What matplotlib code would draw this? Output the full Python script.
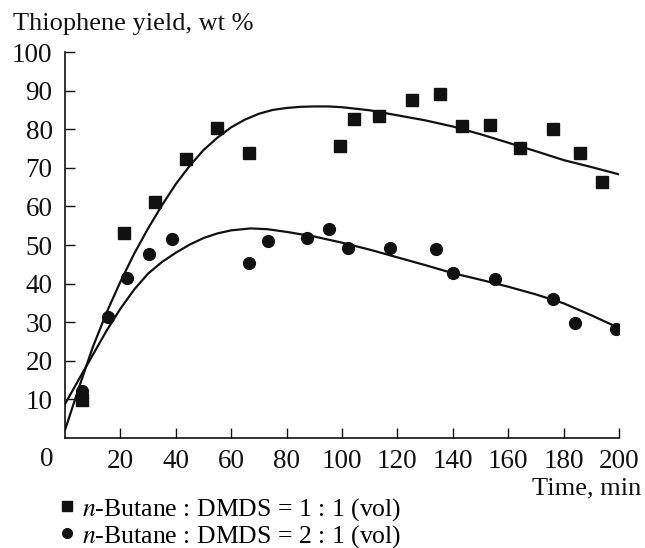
import matplotlib
matplotlib.use('Agg')
import matplotlib.pyplot as plt

plt.rcParams['font.family'] = ['Liberation Serif', 'DejaVu Serif']
plt.rcParams['mathtext.fontset'] = 'stix'

# n-Butane : DMDS = 1 : 1 (squares)
sq_x = [6.0, 21.4, 32.5, 43.6, 54.8, 66.5, 99.3, 104.3, 113.4, 125.4, 135.3,
        143.4, 153.3, 164.3, 176.3, 186.0, 194.0]
sq_y = [9.8, 53.0, 61.2, 72.3, 80.4, 73.8, 75.6, 82.6, 83.4, 87.6, 89.2,
        80.9, 81.0, 75.2, 80.1, 73.9, 66.4]

# n-Butane : DMDS = 2 : 1 (circles)
ci_x = [6.0, 15.4, 22.3, 30.4, 38.6, 66.5, 73.4, 87.3, 95.2, 102.1, 117.3,
        134.0, 140.1, 155.3, 176.1, 184.0, 199.0]
ci_y = [12.2, 31.3, 41.5, 47.6, 51.6, 45.4, 51.0, 51.9, 54.1, 49.1, 49.1,
        49.0, 42.8, 41.3, 36.1, 29.9, 28.3]

# fitted curves
fit1_x = [0, 5, 10, 15, 20, 25, 30, 35, 40, 45, 50, 55, 60, 65, 70, 75, 80,
          85, 90, 95, 100, 110, 120, 130, 140, 150, 160, 170, 180, 190, 200]
fit1_y = [2.1, 13.0, 23.5, 32.5, 40.5, 47.8, 54.3, 60.3, 65.8, 70.5, 74.6,
          77.8, 80.5, 82.5, 84.0, 85.0, 85.5, 85.8, 85.9, 85.9, 85.7, 84.9,
          83.6, 82.3, 80.7, 78.7, 76.5, 74.3, 72.0, 70.2, 68.3]
fit2_x = [0, 5, 10, 15, 20, 25, 30, 35, 40, 45, 50, 55, 60, 67, 73, 80, 90,
          100, 110, 120, 130, 140, 150, 160, 170, 180, 190, 200]
fit2_y = [8.8, 15.2, 21.5, 27.8, 33.5, 38.5, 42.6, 45.6, 48.0, 50.1, 51.8,
          53.0, 53.8, 54.3, 54.1, 53.4, 52.2, 50.6, 48.8, 46.8, 44.8, 42.7,
          41.0, 39.2, 37.2, 34.9, 31.8, 28.5]

x_ticks = [20, 40, 60, 80, 100, 120, 140, 160, 180, 200]
y_ticks = [10, 20, 30, 40, 50, 60, 70, 80, 90, 100]

fig = plt.figure(figsize=(6.45, 5.48), dpi=100)
ax = fig.add_axes([0.1008, 0.2007, 0.8589, 0.7044])

ax.plot(fit1_x, fit1_y, color='#111111', lw=1.6)
ax.plot(fit2_x, fit2_y, color='#111111', lw=1.6)
ax.plot(sq_x, sq_y, 's', color='#111111', ms=8, ls='none')
ax.plot(ci_x, ci_y, 'o', color='#111111', ms=8.5, ls='none')

ax.set_xlim(0, 200)
ax.set_ylim(0, 100)
ax.set_xticks(x_ticks)
ax.set_yticks(y_ticks)
ax.tick_params(direction='in', length=7, width=1, labelsize=19.5, pad=8,
               colors='#111111')
ax.tick_params(axis='y', pad=9)
for s in ['top', 'right']:
    ax.spines[s].set_visible(False)
for s in ['left', 'bottom']:
    ax.spines[s].set_linewidth(1.2)
    ax.spines[s].set_color('#111111')

fig.text(13 / 645, 1 - 24 / 548, 'Thiophene yield, wt %', fontsize=19,
         va='center', ha='left', color='#111111')
fig.text(47 / 645, 1 - 460 / 548, '0', fontsize=19.5, va='center',
         ha='center', color='#111111')
fig.text(641 / 645, 1 - 488 / 548, 'Time, min', fontsize=19, va='center',
         ha='right', color='#111111')

l1, = ax.plot([], [], 's', color='#111111', ms=7)
l2, = ax.plot([], [], 'o', color='#111111', ms=7)
fig.legend([l1, l2],
           ['$n$-Butane : DMDS = 1 : 1 (vol)', '$n$-Butane : DMDS = 2 : 1 (vol)'],
           loc='upper left', bbox_to_anchor=(59 / 645, 1 - 496 / 548),
           frameon=False, fontsize=18.5, handlelength=0.6, handletextpad=0.3,
           labelspacing=0.0, borderaxespad=0, borderpad=0)

fig.savefig('out.png', dpi=100)
